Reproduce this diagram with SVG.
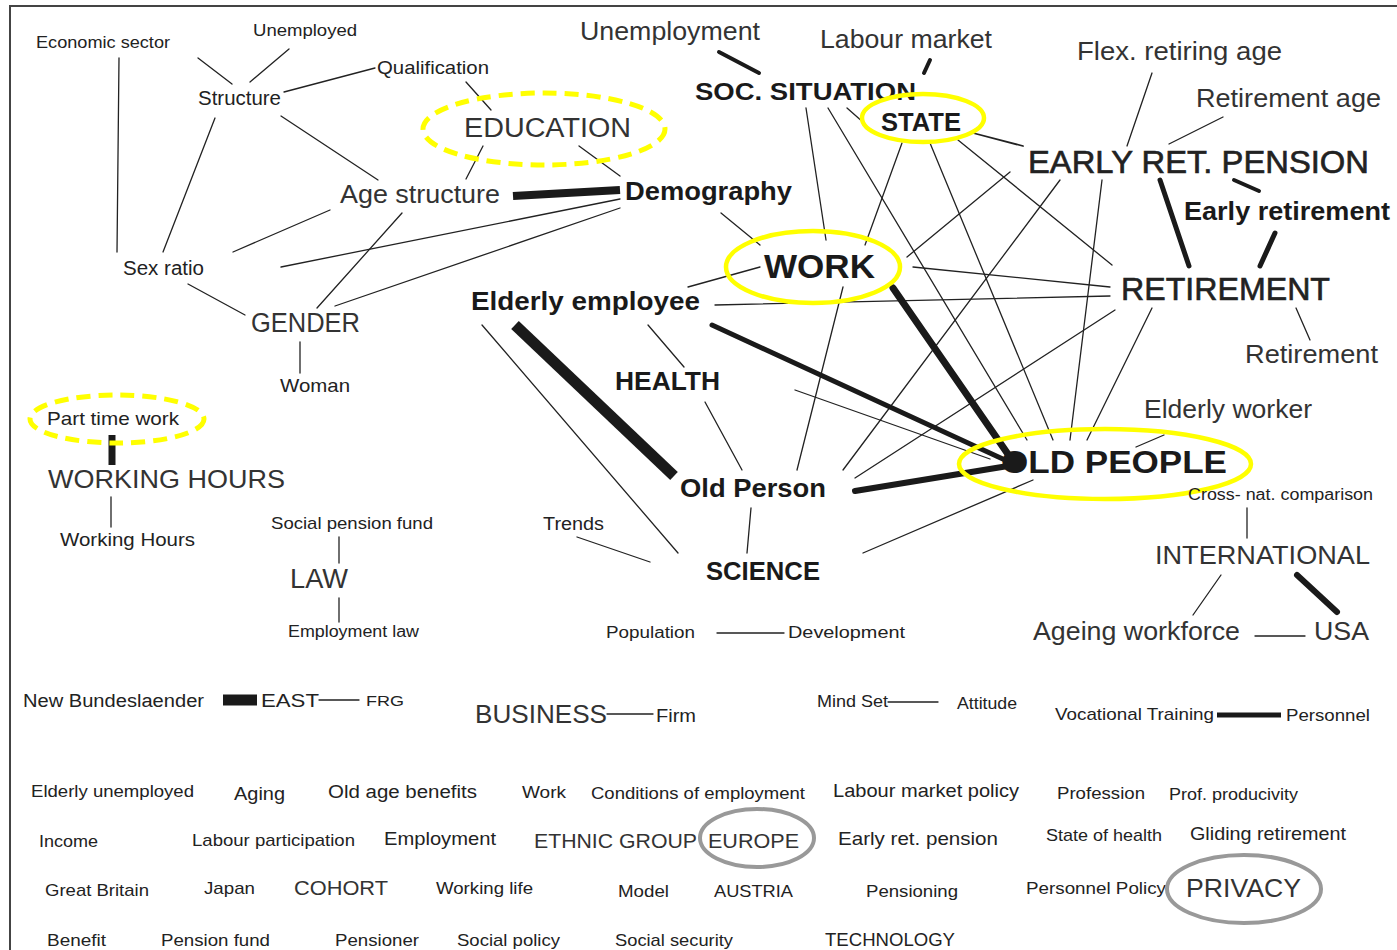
<svg xmlns="http://www.w3.org/2000/svg" width="1397" height="950" viewBox="0 0 1397 950">
<style>
text{font-family:"Liberation Sans",Arial,sans-serif;fill:#222}
.b{font-weight:bold;fill:#1a1a1a}
.l{fill:#333}
.m{stroke:#222;stroke-width:0.6}
.c line{stroke:#222;stroke-width:1.3;stroke-linecap:round}
.c .t line{stroke:#1a1a1a}
.y{fill:none;stroke:#ffff00;stroke-width:4.5}
.yd{fill:none;stroke:#ffff00;stroke-width:5;stroke-dasharray:14 8}
.g{fill:none;stroke:#999;stroke-width:4}
</style>
<rect width="1397" height="950" fill="#fff"/>
<g id="frame" stroke="#444" stroke-width="2" fill="none">
<path d="M1397 6H10V950"/>
</g>
<g id="connectors" class="c">
<line x1="119" y1="58" x2="117" y2="252"/>
<line x1="198" y1="58" x2="232" y2="84"/>
<line x1="289" y1="49" x2="250" y2="82"/>
<line x1="375" y1="68" x2="284" y2="92"/>
<line x1="215" y1="118" x2="163" y2="252"/>
<line x1="281" y1="116" x2="378" y2="180"/>
<line x1="466" y1="82" x2="491" y2="110"/>
<line x1="483" y1="146" x2="466" y2="179"/>
<line x1="579" y1="146" x2="620" y2="176"/>
<line x1="620" y1="199" x2="281" y2="267"/>
<line x1="620" y1="208" x2="335" y2="306"/>
<line x1="330" y1="210" x2="233" y2="252"/>
<line x1="402" y1="213" x2="317" y2="308"/>
<line x1="188" y1="284" x2="245" y2="315"/>
<line x1="300" y1="342" x2="300" y2="373"/>
<line x1="111" y1="497" x2="111" y2="527"/>
<line x1="339" y1="537" x2="339" y2="563"/>
<line x1="339" y1="598" x2="339" y2="622"/>
<line x1="806" y1="108" x2="826" y2="240"/>
<line x1="828" y1="108" x2="1027" y2="440"/>
<line x1="847" y1="108" x2="864" y2="123"/>
<line x1="902" y1="143" x2="865" y2="245"/>
<line x1="930" y1="143" x2="1053" y2="440"/>
<line x1="958" y1="140" x2="1112" y2="265"/>
<line x1="973" y1="133" x2="1023" y2="146" style="stroke-width:1.8"/>
<line x1="1010" y1="172" x2="907" y2="257"/>
<line x1="1060" y1="180" x2="843" y2="470"/>
<line x1="1102" y1="180" x2="1070" y2="440"/>
<line x1="913" y1="267" x2="1110" y2="287"/>
<line x1="715" y1="305" x2="1110" y2="296"/>
<line x1="843" y1="287" x2="797" y2="470"/>
<line x1="1115" y1="310" x2="855" y2="478"/>
<line x1="1152" y1="308" x2="1087" y2="440"/>
<line x1="795" y1="390" x2="990" y2="459"/>
<line x1="1033" y1="480" x2="863" y2="553"/>
<line x1="721" y1="213" x2="760" y2="245"/>
<line x1="688" y1="287" x2="760" y2="267"/>
<line x1="482" y1="325" x2="678" y2="553"/>
<line x1="648" y1="325" x2="684" y2="367"/>
<line x1="705" y1="402" x2="742" y2="470"/>
<line x1="751" y1="508" x2="747" y2="553"/>
<line x1="577" y1="537" x2="650" y2="562"/>
<line x1="1223" y1="117" x2="1169" y2="144"/>
<line x1="1152" y1="73" x2="1127" y2="146"/>
<line x1="1296" y1="308" x2="1310" y2="340"/>
<line x1="1164" y1="435" x2="1136" y2="447"/>
<line x1="1247" y1="508" x2="1247" y2="538"/>
<line x1="1221" y1="575" x2="1193" y2="615"/>
<line x1="1255" y1="636" x2="1305" y2="636"/>
<line x1="717" y1="633" x2="784" y2="633"/>
<line x1="319" y1="700" x2="359" y2="700"/>
<line x1="607" y1="714" x2="653" y2="714"/>
<line x1="888" y1="702" x2="938" y2="702"/>
<g class="t">
<line x1="513" y1="196" x2="620" y2="190" style="stroke-width:8;stroke-linecap:butt"/>
<line x1="112" y1="435" x2="112" y2="465" style="stroke-width:7;stroke-linecap:butt"/>
<line x1="719" y1="52" x2="759" y2="73" style="stroke-width:4"/>
<line x1="930" y1="60" x2="924" y2="73" style="stroke-width:4"/>
<line x1="893" y1="288" x2="1012" y2="460" style="stroke-width:7"/>
<line x1="712" y1="325" x2="1005" y2="460" style="stroke-width:5"/>
<line x1="855" y1="491" x2="1008" y2="466" style="stroke-width:6"/>
<line x1="515" y1="325" x2="674" y2="476" style="stroke-width:11;stroke-linecap:butt"/>
<line x1="1160" y1="180" x2="1189" y2="266" style="stroke-width:5"/>
<line x1="1234" y1="180" x2="1259" y2="191" style="stroke-width:4"/>
<line x1="1275" y1="233" x2="1260" y2="266" style="stroke-width:5"/>
<line x1="1297" y1="575" x2="1337" y2="612" style="stroke-width:6"/>
<line x1="1217" y1="715" x2="1281" y2="715" style="stroke-width:5;stroke-linecap:butt"/>
<line x1="223" y1="700" x2="257" y2="700" style="stroke-width:11;stroke-linecap:butt"/>
</g>
<circle cx="1013" cy="462" r="10" fill="#1a1a1a"/>
</g>
<g id="n-economic-sector"><text x="36" y="48" font-size="16" textLength="134" lengthAdjust="spacingAndGlyphs">Economic sector</text></g>
<g id="n-unemployed"><text x="253" y="36" font-size="16" textLength="104" lengthAdjust="spacingAndGlyphs">Unemployed</text></g>
<g id="n-qualification"><text x="377" y="74" font-size="19" textLength="112" lengthAdjust="spacingAndGlyphs">Qualification</text></g>
<g id="n-structure"><text x="198" y="105" font-size="20" textLength="83" lengthAdjust="spacingAndGlyphs">Structure</text></g>
<g id="n-education"><ellipse class="yd" cx="544" cy="129" rx="121" ry="36"/><text class="l" x="464" y="137" font-size="27" textLength="167" lengthAdjust="spacingAndGlyphs">EDUCATION</text></g>
<g id="n-age-structure"><text class="l" x="340" y="203" font-size="25" textLength="160" lengthAdjust="spacingAndGlyphs">Age structure</text></g>
<g id="n-demography"><text class="b" x="625" y="200" font-size="25" textLength="167" lengthAdjust="spacingAndGlyphs">Demography</text></g>
<g id="n-sex-ratio"><text x="123" y="275" font-size="20" textLength="81" lengthAdjust="spacingAndGlyphs">Sex ratio</text></g>
<g id="n-gender"><text class="l" x="251" y="332" font-size="27" textLength="109" lengthAdjust="spacingAndGlyphs">GENDER</text></g>
<g id="n-woman"><text x="280" y="392" font-size="19" textLength="70" lengthAdjust="spacingAndGlyphs">Woman</text></g>
<g id="n-part-time-work"><ellipse class="yd" cx="117" cy="419" rx="87" ry="24"/><text x="47" y="425" font-size="19" textLength="132" lengthAdjust="spacingAndGlyphs">Part time work</text></g>
<g id="n-working-hours-main"><text class="l" x="48" y="488" font-size="26" textLength="237" lengthAdjust="spacingAndGlyphs">WORKING HOURS</text></g>
<g id="n-working-hours"><text x="60" y="546" font-size="19" textLength="135" lengthAdjust="spacingAndGlyphs">Working Hours</text></g>
<g id="n-social-pension-fund"><text x="271" y="529" font-size="17" textLength="162" lengthAdjust="spacingAndGlyphs">Social pension fund</text></g>
<g id="n-law"><text class="l" x="290" y="588" font-size="27" textLength="58" lengthAdjust="spacingAndGlyphs">LAW</text></g>
<g id="n-employment-law"><text x="288" y="637" font-size="16" textLength="131" lengthAdjust="spacingAndGlyphs">Employment law</text></g>
<g id="n-unemployment"><text class="l" x="580" y="40" font-size="25" textLength="180" lengthAdjust="spacingAndGlyphs">Unemployment</text></g>
<g id="n-labour-market"><text class="l" x="820" y="48" font-size="25" textLength="172" lengthAdjust="spacingAndGlyphs">Labour market</text></g>
<g id="n-soc-situation"><text class="b" x="695" y="100" font-size="24" textLength="221" lengthAdjust="spacingAndGlyphs">SOC. SITUATION</text></g>
<g id="n-state"><ellipse class="y" cx="923" cy="118" rx="61" ry="24"/><text class="b" x="881" y="131" font-size="26" textLength="80" lengthAdjust="spacingAndGlyphs">STATE</text></g>
<g id="n-flex-retiring-age"><text class="l" x="1077" y="60" font-size="25" textLength="205" lengthAdjust="spacingAndGlyphs">Flex. retiring age</text></g>
<g id="n-retirement-age"><text class="l" x="1196" y="107" font-size="25" textLength="185" lengthAdjust="spacingAndGlyphs">Retirement age</text></g>
<g id="n-early-ret-pension"><text class="m" x="1028" y="173" font-size="31" textLength="341" lengthAdjust="spacingAndGlyphs">EARLY RET. PENSION</text></g>
<g id="n-early-retirement"><text class="b" x="1184" y="220" font-size="25" textLength="206" lengthAdjust="spacingAndGlyphs">Early retirement</text></g>
<g id="n-work"><ellipse class="y" cx="813" cy="267" rx="87" ry="36"/><text class="b" x="764" y="278" font-size="34" textLength="111" lengthAdjust="spacingAndGlyphs">WORK</text></g>
<g id="n-elderly-employee"><text class="b" x="471" y="310" font-size="25" textLength="229" lengthAdjust="spacingAndGlyphs">Elderly employee</text></g>
<g id="n-retirement-main"><text class="m" x="1121" y="300" font-size="31" textLength="209" lengthAdjust="spacingAndGlyphs">RETIREMENT</text></g>
<g id="n-retirement"><text class="l" x="1245" y="363" font-size="25" textLength="133" lengthAdjust="spacingAndGlyphs">Retirement</text></g>
<g id="n-health"><text class="b" x="615" y="390" font-size="25" textLength="105" lengthAdjust="spacingAndGlyphs">HEALTH</text></g>
<g id="n-elderly-worker"><text class="l" x="1144" y="418" font-size="25" textLength="168" lengthAdjust="spacingAndGlyphs">Elderly worker</text></g>
<g id="n-old-people"><ellipse class="y" cx="1105" cy="464" rx="146" ry="35"/><text class="b" x="1001" y="473" font-size="31" textLength="226" lengthAdjust="spacingAndGlyphs">OLD PEOPLE</text></g>
<g id="n-old-person"><text class="b" x="680" y="497" font-size="25" textLength="146" lengthAdjust="spacingAndGlyphs">Old Person</text></g>
<g id="n-cross-nat"><text x="1188" y="500" font-size="16" textLength="185" lengthAdjust="spacingAndGlyphs">Cross- nat. comparison</text></g>
<g id="n-international"><text class="l" x="1155" y="564" font-size="26" textLength="215" lengthAdjust="spacingAndGlyphs">INTERNATIONAL</text></g>
<g id="n-trends"><text x="543" y="530" font-size="18" textLength="61" lengthAdjust="spacingAndGlyphs">Trends</text></g>
<g id="n-science"><text class="b" x="706" y="580" font-size="25" textLength="114" lengthAdjust="spacingAndGlyphs">SCIENCE</text></g>
<g id="n-population"><text x="606" y="638" font-size="16" textLength="89" lengthAdjust="spacingAndGlyphs">Population</text></g>
<g id="n-development"><text x="788" y="638" font-size="17" textLength="117" lengthAdjust="spacingAndGlyphs">Development</text></g>
<g id="n-ageing-workforce"><text class="l" x="1033" y="640" font-size="25" textLength="207" lengthAdjust="spacingAndGlyphs">Ageing workforce</text></g>
<g id="n-usa"><text class="l" x="1314" y="640" font-size="26" textLength="55" lengthAdjust="spacingAndGlyphs">USA</text></g>
<g id="n-new-bundeslaender"><text x="23" y="707" font-size="18" textLength="181" lengthAdjust="spacingAndGlyphs">New Bundeslaender</text></g>
<g id="n-east"><text x="261" y="707" font-size="18" textLength="58" lengthAdjust="spacingAndGlyphs">EAST</text></g>
<g id="n-frg"><text x="366" y="706" font-size="15" textLength="38" lengthAdjust="spacingAndGlyphs">FRG</text></g>
<g id="n-business"><text class="l" x="475" y="723" font-size="25" textLength="132" lengthAdjust="spacingAndGlyphs">BUSINESS</text></g>
<g id="n-firm"><text x="656" y="722" font-size="18" textLength="40" lengthAdjust="spacingAndGlyphs">Firm</text></g>
<g id="n-mind-set"><text x="817" y="707" font-size="17" textLength="71" lengthAdjust="spacingAndGlyphs">Mind Set</text></g>
<g id="n-attitude"><text x="957" y="709" font-size="17" textLength="60" lengthAdjust="spacingAndGlyphs">Attitude</text></g>
<g id="n-vocational-training"><text x="1055" y="720" font-size="17" textLength="159" lengthAdjust="spacingAndGlyphs">Vocational Training</text></g>
<g id="n-personnel"><text x="1286" y="721" font-size="17" textLength="84" lengthAdjust="spacingAndGlyphs">Personnel</text></g>
<g id="n-elderly-unemployed"><text x="31" y="797" font-size="17" textLength="163" lengthAdjust="spacingAndGlyphs">Elderly unemployed</text></g>
<g id="n-aging"><text x="234" y="800" font-size="18" textLength="51" lengthAdjust="spacingAndGlyphs">Aging</text></g>
<g id="n-old-age-benefits"><text x="328" y="798" font-size="18" textLength="149" lengthAdjust="spacingAndGlyphs">Old age benefits</text></g>
<g id="n-work-small"><text x="522" y="798" font-size="17" textLength="44" lengthAdjust="spacingAndGlyphs">Work</text></g>
<g id="n-conditions"><text x="591" y="799" font-size="17" textLength="214" lengthAdjust="spacingAndGlyphs">Conditions of employment</text></g>
<g id="n-labour-market-policy"><text x="833" y="797" font-size="19" textLength="186" lengthAdjust="spacingAndGlyphs">Labour market policy</text></g>
<g id="n-profession"><text x="1057" y="799" font-size="17" textLength="88" lengthAdjust="spacingAndGlyphs">Profession</text></g>
<g id="n-prof-producivity"><text x="1169" y="800" font-size="17" textLength="129" lengthAdjust="spacingAndGlyphs">Prof. producivity</text></g>
<g id="n-income"><text x="39" y="847" font-size="17" textLength="59" lengthAdjust="spacingAndGlyphs">Income</text></g>
<g id="n-labour-participation"><text x="192" y="846" font-size="17" textLength="163" lengthAdjust="spacingAndGlyphs">Labour participation</text></g>
<g id="n-employment"><text x="384" y="845" font-size="19" textLength="112" lengthAdjust="spacingAndGlyphs">Employment</text></g>
<g id="n-ethnic-group"><text class="l" x="534" y="848" font-size="21" textLength="163" lengthAdjust="spacingAndGlyphs">ETHNIC GROUP</text></g>
<g id="n-europe"><ellipse class="g" cx="757" cy="838" rx="57" ry="29"/><text class="l" x="708" y="848" font-size="21" textLength="91" lengthAdjust="spacingAndGlyphs">EUROPE</text></g>
<g id="n-early-ret-pension-small"><text x="838" y="845" font-size="19" textLength="160" lengthAdjust="spacingAndGlyphs">Early ret. pension</text></g>
<g id="n-state-of-health"><text x="1046" y="841" font-size="17" textLength="116" lengthAdjust="spacingAndGlyphs">State of health</text></g>
<g id="n-gliding-retirement"><text x="1190" y="840" font-size="19" textLength="156" lengthAdjust="spacingAndGlyphs">Gliding retirement</text></g>
<g id="n-great-britain"><text x="45" y="896" font-size="17" textLength="104" lengthAdjust="spacingAndGlyphs">Great Britain</text></g>
<g id="n-japan"><text x="204" y="894" font-size="17" textLength="51" lengthAdjust="spacingAndGlyphs">Japan</text></g>
<g id="n-cohort"><text class="l" x="294" y="895" font-size="20" textLength="94" lengthAdjust="spacingAndGlyphs">COHORT</text></g>
<g id="n-working-life"><text x="436" y="894" font-size="17" textLength="97" lengthAdjust="spacingAndGlyphs">Working life</text></g>
<g id="n-model"><text x="618" y="897" font-size="17" textLength="51" lengthAdjust="spacingAndGlyphs">Model</text></g>
<g id="n-austria"><text x="714" y="897" font-size="17" textLength="79" lengthAdjust="spacingAndGlyphs">AUSTRIA</text></g>
<g id="n-pensioning"><text x="866" y="897" font-size="17" textLength="92" lengthAdjust="spacingAndGlyphs">Pensioning</text></g>
<g id="n-personnel-policy"><text x="1026" y="894" font-size="17" textLength="140" lengthAdjust="spacingAndGlyphs">Personnel Policy</text></g>
<g id="n-privacy"><ellipse class="g" cx="1244" cy="889" rx="77" ry="34"/><text class="l" x="1186" y="897" font-size="26" textLength="115" lengthAdjust="spacingAndGlyphs">PRIVACY</text></g>
<g id="n-benefit"><text x="47" y="946" font-size="17" textLength="59" lengthAdjust="spacingAndGlyphs">Benefit</text></g>
<g id="n-pension-fund"><text x="161" y="946" font-size="17" textLength="109" lengthAdjust="spacingAndGlyphs">Pension fund</text></g>
<g id="n-pensioner"><text x="335" y="946" font-size="17" textLength="84" lengthAdjust="spacingAndGlyphs">Pensioner</text></g>
<g id="n-social-policy"><text x="457" y="946" font-size="17" textLength="103" lengthAdjust="spacingAndGlyphs">Social policy</text></g>
<g id="n-social-security"><text x="615" y="946" font-size="17" textLength="118" lengthAdjust="spacingAndGlyphs">Social security</text></g>
<g id="n-technology"><text x="825" y="946" font-size="18" textLength="130" lengthAdjust="spacingAndGlyphs">TECHNOLOGY</text></g>
</svg>
